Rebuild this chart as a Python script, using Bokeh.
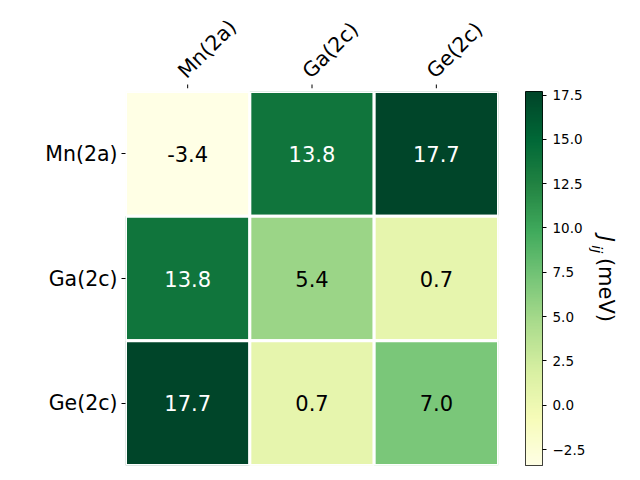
import numpy as np
from math import pi
from bokeh.plotting import figure
from bokeh.layouts import row, column
from bokeh.models import (LinearColorMapper, FactorRange, Range1d, FixedTicker,
                          ColumnDataSource)
from bokeh.palettes import YlGn9, interp_palette
from bokeh.core.properties import value
from bokeh.embed import file_html
from bokeh.resources import INLINE

# ---- data ----
sites = ["Mn(2a)", "Ga(2c)", "Ge(2c)"]
row_mn = [-3.4, 13.8, 17.7]
row_ga = [13.8, 5.4, 0.7]
row_ge = [17.7, 0.7, 7.0]
cbar_ticks = [-2.5, 0.0, 2.5, 5.0, 7.5, 10.0, 12.5, 15.0, 17.5]
cbar_title = ["J", "ij", "(meV)"]

matrix = [row_mn, row_ga, row_ge]
vals = np.array(matrix)
low, high = float(vals.min()), float(vals.max())
FONT = "DejaVu Sans"

xs, ys, vs, labels, tcolors = [], [], [], [], []
for i, r in enumerate(sites):
    for j, c in enumerate(sites):
        v = matrix[i][j]
        xs.append(c); ys.append(r); vs.append(v)
        labels.append(f"{v:.1f}")
        tcolors.append("white" if (v - low) / (high - low) > 0.7 else "black")
src = ColumnDataSource(dict(x=xs, y=ys, v=vs, label=labels, tc=tcolors))

base = list(YlGn9)
if base[0].lower() != "#ffffe5":
    base = base[::-1]
palette = list(interp_palette(tuple(base), 256))
mapper = LinearColorMapper(palette=palette, low=low, high=high)

xr = FactorRange(*sites, range_padding=0)

# ---- top strip: rotated column labels + ticks ----
top = figure(width=508, height=91, x_range=xr, y_range=Range1d(0, 1),
             x_axis_location=None, y_axis_location=None,
             output_backend="svg", toolbar_location=None,
             min_border_left=125, min_border_right=10, min_border_top=0, min_border_bottom=3)
top.grid.grid_line_color = None
top.outline_line_color = None
top.ray(x=sites, y=[0] * len(sites), length=4, length_units="screen", angle=pi / 2,
        line_color="black", line_width=1)
top.text(x=sites, y=[0] * len(sites), text=sites, angle=pi / 4,
         x_offset=-6, y_offset=-14, text_align="left", text_baseline="alphabetic",
         text_font=value(FONT), text_font_size="20.5px", text_color="black")

# ---- heatmap ----
p = figure(width=508, height=381, x_range=xr,
           y_range=FactorRange(*reversed(sites), range_padding=0), x_axis_location=None,
           output_backend="svg", toolbar_location=None,
           min_border_left=125, min_border_right=10, min_border_top=0, min_border_bottom=7)
p.rect(x="x", y="y", width=1, height=1, source=src,
       fill_color={"field": "v", "transform": mapper}, line_color="white", line_width=3)
p.text(x="x", y="y", text="label", source=src, text_color="tc",
       text_align="center", text_baseline="middle",
       text_font=value(FONT), text_font_size="21px")
p.outline_line_color = None
p.grid.grid_line_color = None
ax = p.yaxis[0]
ax.axis_line_color = None
ax.major_tick_in = 0
ax.major_tick_out = 4
ax.major_tick_line_color = "black"
ax.major_label_text_font = FONT
ax.major_label_text_font_size = "20.5px"
ax.major_label_text_color = "black"
ax.major_label_standoff = 4

# ---- colorbar ----
cb = figure(width=80, height=472, x_range=Range1d(0, 1), y_range=Range1d(low, high),
            x_axis_location=None, y_axis_location="right",
            output_backend="svg", toolbar_location=None,
            min_border_left=17, min_border_right=44, min_border_top=91, min_border_bottom=7)
cb.image(image=[np.linspace(low, high, 256).reshape(-1, 1)], x=0, y=low, dw=1, dh=high - low,
         color_mapper=mapper)
cb.grid.grid_line_color = None
cb.outline_line_color = "black"
cb.outline_line_width = 1
ya = cb.yaxis[0]
ya.ticker = FixedTicker(ticks=cbar_ticks)
ya.major_label_overrides = {t: f"{t:.1f}".replace("-", "\u2212") for t in cbar_ticks}
ya.axis_line_color = None
ya.major_tick_in = 0
ya.major_tick_out = 4
ya.minor_tick_line_color = None
ya.major_tick_line_color = "black"
ya.major_label_text_font = FONT
ya.major_label_text_font_size = "13.5px"
ya.major_label_text_color = "black"
ya.major_label_standoff = 6

# ---- colorbar title panel: J_ij (meV), reading top-to-bottom ----
tp = figure(width=52, height=472, x_range=Range1d(0, 52), y_range=Range1d(0, 472),
            x_axis_location=None, y_axis_location=None,
            output_backend="svg", toolbar_location=None,
            min_border_left=0, min_border_right=0, min_border_top=0, min_border_bottom=0)
tp.grid.grid_line_color = None
tp.outline_line_color = None
rot = dict(angle=-pi / 2, text_align="left", text_baseline="alphabetic",
           text_color="black", text_font=value(FONT))
tp.text(x=[17], y=[290], text=[cbar_title[0]], text_font_size="21px",
        text_font_style="italic", **rot)
tp.text(x=[8], y=[278], text=[cbar_title[1]], text_font_size="14.5px",
        text_font_style="italic", **rot)
tp.text(x=[17], y=[262], text=[cbar_title[2]], text_font_size="21px", **rot)

layout = row(column(top, p), cb, tp)
open("out.html", "w").write(file_html(layout, INLINE))
